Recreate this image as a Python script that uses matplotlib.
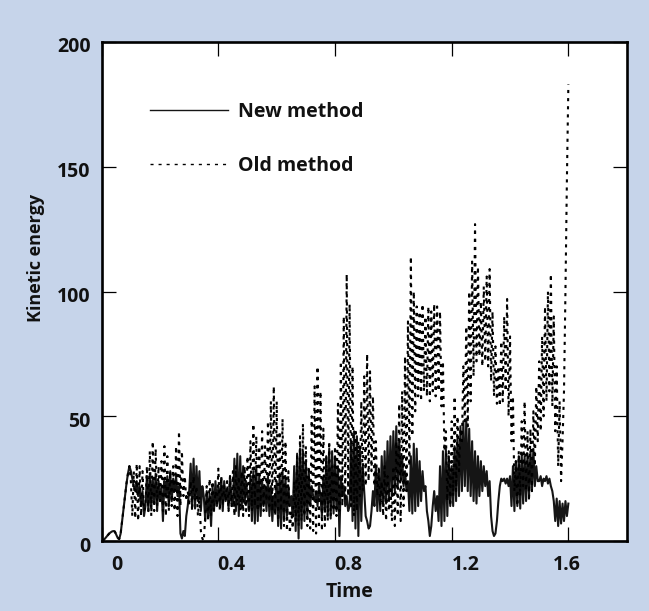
import numpy as np
import matplotlib
matplotlib.use("Agg")
import matplotlib.pyplot as plt
from matplotlib.transforms import ScaledTranslation
from matplotlib.lines import Line2D

# ---------------- data ----------------
time_step = 0.005  # sampling interval of both series

new_method = [
    0, 0.3, 0.8, 1.5, 2.2, 2.9, 3.4, 3.8, 4.0, 3.8,
    2.5, 1.2, 0.8, 3, 8, 13, 18, 23, 27, 30,
    28, 25, 22, 20, 24, 18, 22, 14, 20, 10,
    14, 26, 12, 27, 13, 25, 15, 27, 12, 24,
    16, 22, 8, 24, 18, 26, 14, 28, 16, 25,
    20, 26, 18, 22, 3, 1, 4, 2, 10, 14,
    20, 31, 14, 33, 13, 30, 16, 28, 12, 22,
    18, 8, 20, 10, 19, 6, 22, 12, 24, 14,
    22, 14, 25, 12, 24, 16, 21, 13, 26, 15,
    14, 33, 12, 35, 10, 34, 13, 30, 15, 24,
    18, 12, 26, 8, 28, 7, 30, 8, 26, 10,
    24, 14, 22, 12, 26, 10, 22, 8, 18, 12,
    24, 6, 27, 5, 28, 8, 26, 10, 22, 14,
    18, 10, 30, 4, 35, 1, 37, 5, 36, 8,
    32, 10, 28, 14, 22, 18, 16, 20, 14, 22,
    18, 10, 26, 12, 34, 10, 37, 9, 36, 11,
    34, 12, 30, 2, 26, 18, 22, 14, 18, 12,
    14, 40, 8, 44, 5, 42, 2, 38, 8, 30,
    20, 10, 8, 5, 6, 12, 20, 14, 30, 12,
    28, 12, 34, 14, 36, 15, 40, 16, 42, 18,
    44, 20, 46, 22, 40, 24, 34, 22, 28, 20,
    24, 12, 34, 11, 39, 12, 37, 14, 32, 16,
    28, 20, 22, 12, 8, 2, 6, 14, 20, 12,
    18, 8, 30, 6, 36, 8, 37, 10, 34, 14,
    30, 14, 38, 16, 42, 18, 46, 20, 48, 22,
    49, 20, 45, 18, 40, 16, 36, 15, 34, 18,
    32, 20, 30, 22, 28, 18, 24, 10, 4, 2,
    3, 8, 16, 22, 25, 24, 25, 23, 25, 22,
    26, 14, 30, 12, 32, 14, 34, 13, 35, 15,
    34, 16, 35, 18, 36, 20, 37, 22, 30, 24,
    24, 26, 22, 25, 24, 26, 23, 25, 22, 20,
    16, 8, 17, 6, 16, 7, 15, 8, 16, 10, 15,
]

old_method = [
    0, 0.3, 0.8, 1.5, 2.2, 2.9, 3.4, 3.8, 4.0, 3.8,
    2.5, 1.2, 0.8, 3, 8, 13, 18, 23, 27, 30,
    24, 10, 28, 9, 31, 8, 30, 10, 28, 12,
    14, 30, 12, 36, 10, 40, 12, 37, 14, 30,
    16, 32, 12, 38, 10, 34, 12, 28, 14, 30,
    12, 38, 10, 44, 14, 36, 18, 26, 16, 20,
    14, 24, 12, 26, 16, 22, 10, 18, 4, 1,
    0, 10, 22, 8, 25, 10, 24, 12, 20, 14,
    29, 12, 26, 14, 22, 16, 24, 12, 26, 14,
    28, 10, 30, 14, 26, 12, 28, 10, 30, 12,
    34, 10, 40, 12, 47, 14, 42, 12, 38, 14,
    44, 12, 38, 16, 48, 14, 56, 12, 62, 10,
    56, 8, 44, 12, 49, 6, 40, 4, 28, 3,
    12, 5, 24, 8, 34, 6, 42, 8, 47, 10,
    38, 6, 30, 5, 50, 4, 62, 3, 70, 5,
    60, 4, 45, 6, 34, 8, 40, 10, 30, 12,
    38, 10, 55, 12, 72, 14, 90, 16, 107, 18,
    95, 14, 70, 10, 45, 12, 40, 18, 56, 20,
    66, 22, 75, 24, 68, 28, 58, 22, 40, 18,
    30, 14, 24, 10, 30, 8, 26, 12, 22, 8,
    30, 6, 40, 10, 55, 8, 60, 14, 74, 20,
    88, 30, 114, 42, 100, 52, 94, 58, 92, 56,
    95, 60, 90, 58, 94, 56, 92, 60, 95, 58,
    94, 60, 92, 54, 72, 36, 44, 16, 36, 14,
    48, 18, 58, 20, 50, 28, 45, 40, 70, 48,
    86, 46, 100, 56, 112, 66, 127, 72, 110, 74,
    96, 70, 102, 72, 106, 70, 109, 64, 92, 58,
    78, 55, 70, 54, 80, 56, 90, 60, 97, 50,
    82, 40, 58, 20, 32, 14, 36, 18, 48, 22,
    56, 20, 44, 16, 45, 20, 52, 30, 62, 40,
    72, 44, 82, 50, 94, 56, 100, 60, 107, 54,
    90, 44, 70, 30, 56, 24, 40, 60, 100, 145, 183,
]

x_ticks = [0, 0.4, 0.8, 1.2, 1.6]
x_tick_labels = ["0", "0.4", "0.8", "1.2", "1.6"]
y_ticks = [0, 50, 100, 150, 200]
y_tick_labels = ["0", "50", "100", "150", "200"]
series_labels = ["New method", "Old method"]
x_title = "Time"
y_title = "Kinetic energy"

# ---------------- figure ----------------
BG = "#c6d4ea"
FONT = "Open Sans"
FS = 14
TXT = "#111111"

fig = plt.figure(figsize=(6.49, 6.11), dpi=100, facecolor=BG)
W, H = 649, 611
ax = fig.add_axes([101.7 / W, 1 - 541 / H, 525 / W, 499 / H])
ax.set_facecolor("white")

t_new = np.arange(len(new_method)) * time_step
t_old = np.arange(len(old_method)) * time_step

ax.plot(t_new, new_method, color="#151515", lw=1.5)
ax.plot(t_old, old_method, color="black", lw=1.5,
        linestyle=(0, (1.5, 2.4)))

ax.set_xlim(0, 1.8)
ax.set_ylim(0, 200)

for s in ax.spines.values():
    s.set_linewidth(1.9)
    s.set_color("black")

ax.set_xticks(x_ticks)
ax.set_xticklabels(x_tick_labels)
ax.set_yticks(y_ticks)
ax.set_yticklabels(y_tick_labels)
ax.tick_params(direction="in", length=10, width=0.9, top=True, right=True,
               colors="black")
ax.tick_params(axis="x", pad=10)
ax.tick_params(axis="y", pad=8)
for lab in ax.get_xticklabels() + ax.get_yticklabels():
    lab.set_fontfamily(FONT)
    lab.set_fontweight("bold")
    lab.set_fontsize(FS)
    lab.set_color(TXT)

x_offsets = [15, 13, 13, 14, -1.5]
for lab, dx in zip(ax.get_xticklabels(), x_offsets):
    lab.set_transform(lab.get_transform() +
                      ScaledTranslation(dx / 100, 0, fig.dpi_scale_trans))
for lab in ax.get_yticklabels():
    lab.set_transform(lab.get_transform() +
                      ScaledTranslation(0, -3 / 100, fig.dpi_scale_trans))

ax.set_xlabel(x_title, fontfamily=FONT, fontweight="bold", fontsize=FS,
              va="center", color=TXT)
ax.xaxis.set_label_coords((349.5 - 101.7) / 525, -(592 - 541) / 499)
ax.set_ylabel(y_title, fontfamily=FONT, fontweight="bold", fontsize=13,
              va="center", color=TXT)
ax.yaxis.set_label_coords((36 - 101.7) / 525, (541 - 258) / 499)

h_new = Line2D([], [], color="#151515", lw=1.0)
h_old = Line2D([], [], color="black", lw=1.0, linestyle=(0, (2.2, 3.6)))
leg = ax.legend(handles=[h_new, h_old], labels=series_labels, loc="upper left",
                bbox_to_anchor=((150 - 101.7) / 525, (541 - 102) / 499),
                frameon=False, handlelength=4.0, handletextpad=0.5,
                labelspacing=1.74, borderpad=0, borderaxespad=0,
                prop={"family": FONT, "weight": "bold", "size": FS})
for txt in leg.get_texts():
    txt.set_color(TXT)

fig.savefig("out.png", dpi=100, facecolor=BG)
